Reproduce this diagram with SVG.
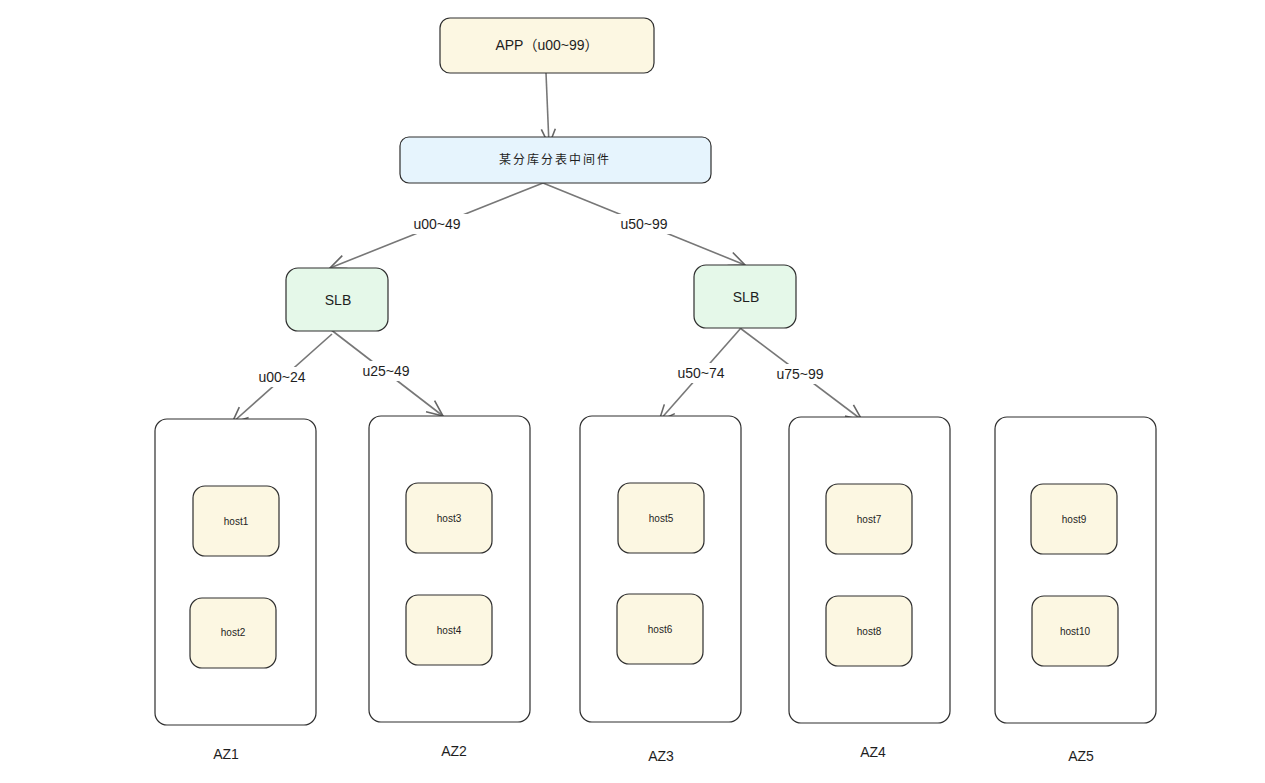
<svg xmlns="http://www.w3.org/2000/svg" width="1265" height="783" viewBox="0 0 1265 783">
<defs>
<style>
.box{stroke:#2e2e2e;stroke-width:1.2}
.app{fill:#fcf7e2}
.mid{fill:#e6f4fd}
.slb{fill:#e5f8e9}
.host{fill:#fcf7e2}
.az{fill:#ffffff}
.t{font-family:"Liberation Sans","Noto Sans CJK SC",sans-serif;fill:#1e1e1e;text-anchor:middle;dominant-baseline:central}
.lbl{font-size:14px}
.hl{font-size:10px}
.ln{stroke:#777;stroke-width:1.6;fill:none}
.bg{fill:#fff}
</style>
<marker id="ah" viewBox="0 0 20 20" refX="18" refY="10" markerWidth="20" markerHeight="20" markerUnits="userSpaceOnUse" orient="auto">
<path d="M2,3 L18,10 L2,17" fill="none" stroke="#666" stroke-width="1.6"/>
</marker>
</defs>
<rect width="1265" height="783" fill="#fff"/>
<g id="connectors">
<line class="ln" x1="546" y1="73" x2="549" y2="145" marker-end="url(#ah)"/>
<line class="ln" x1="543" y1="183" x2="330" y2="268" marker-end="url(#ah)"/>
<line class="ln" x1="543" y1="183" x2="745" y2="265" marker-end="url(#ah)"/>
<line class="ln" x1="332" y1="334" x2="232" y2="423" marker-end="url(#ah)"/>
<line class="ln" x1="330" y1="329" x2="443" y2="416" marker-end="url(#ah)"/>
<line class="ln" x1="741" y1="328" x2="659" y2="421" marker-end="url(#ah)"/>
<line class="ln" x1="740" y1="328" x2="862" y2="420" marker-end="url(#ah)"/>
<rect class="bg" x="405" y="214" width="64" height="20"/>
<text class="t lbl" x="437" y="224">u00~49</text>
<rect class="bg" x="612" y="214" width="64" height="20"/>
<text class="t lbl" x="644" y="224">u50~99</text>
<rect class="bg" x="250" y="367" width="64" height="20"/>
<text class="t lbl" x="282" y="377">u00~24</text>
<rect class="bg" x="354" y="361" width="64" height="20"/>
<text class="t lbl" x="386" y="371">u25~49</text>
<rect class="bg" x="669" y="363" width="64" height="20"/>
<text class="t lbl" x="701" y="373">u50~74</text>
<rect class="bg" x="768" y="364" width="64" height="20"/>
<text class="t lbl" x="800" y="374">u75~99</text>
</g>
<g id="app"><rect class="box app" x="440" y="18" width="214" height="55" rx="10"/><text class="t lbl" x="547" y="45">APP（u00~99）</text></g>
<g id="middleware"><rect class="box mid" x="400" y="137" width="311" height="46" rx="9"/><text class="t" x="555" y="160" font-size="12" letter-spacing="2">某分库分表中间件</text></g>
<g id="slb1"><rect class="box slb" x="286" y="268" width="102" height="63" rx="12"/><text class="t lbl" x="338" y="300">SLB</text></g>
<g id="slb2"><rect class="box slb" x="694" y="265" width="102" height="63" rx="12"/><text class="t lbl" x="746" y="297">SLB</text></g>
<g id="az1"><rect class="box az" x="155" y="419" width="161" height="306" rx="12"/><text class="t lbl" x="226" y="754">AZ1</text></g>
<g id="az2"><rect class="box az" x="369" y="416" width="161" height="306" rx="12"/><text class="t lbl" x="454" y="751">AZ2</text></g>
<g id="az3"><rect class="box az" x="580" y="416" width="161" height="306" rx="12"/><text class="t lbl" x="661" y="756">AZ3</text></g>
<g id="az4"><rect class="box az" x="789" y="417" width="161" height="306" rx="12"/><text class="t lbl" x="873" y="752">AZ4</text></g>
<g id="az5"><rect class="box az" x="995" y="417" width="161" height="306" rx="12"/><text class="t lbl" x="1081" y="756">AZ5</text></g>
<g id="host1"><rect class="box host" x="193" y="486" width="86" height="70" rx="12"/><text class="t hl" x="236" y="521">host1</text></g>
<g id="host2"><rect class="box host" x="190" y="598" width="86" height="70" rx="12"/><text class="t hl" x="233" y="632">host2</text></g>
<g id="host3"><rect class="box host" x="406" y="483" width="86" height="70" rx="12"/><text class="t hl" x="449" y="518">host3</text></g>
<g id="host4"><rect class="box host" x="406" y="595" width="86" height="70" rx="12"/><text class="t hl" x="449" y="630">host4</text></g>
<g id="host5"><rect class="box host" x="618" y="483" width="86" height="70" rx="12"/><text class="t hl" x="661" y="518">host5</text></g>
<g id="host6"><rect class="box host" x="617" y="594" width="86" height="70" rx="12"/><text class="t hl" x="660" y="629">host6</text></g>
<g id="host7"><rect class="box host" x="826" y="484" width="86" height="70" rx="12"/><text class="t hl" x="869" y="519">host7</text></g>
<g id="host8"><rect class="box host" x="826" y="596" width="86" height="70" rx="12"/><text class="t hl" x="869" y="631">host8</text></g>
<g id="host9"><rect class="box host" x="1031" y="484" width="86" height="70" rx="12"/><text class="t hl" x="1074" y="519">host9</text></g>
<g id="host10"><rect class="box host" x="1032" y="596" width="86" height="70" rx="12"/><text class="t hl" x="1075" y="631">host10</text></g>
</svg>
